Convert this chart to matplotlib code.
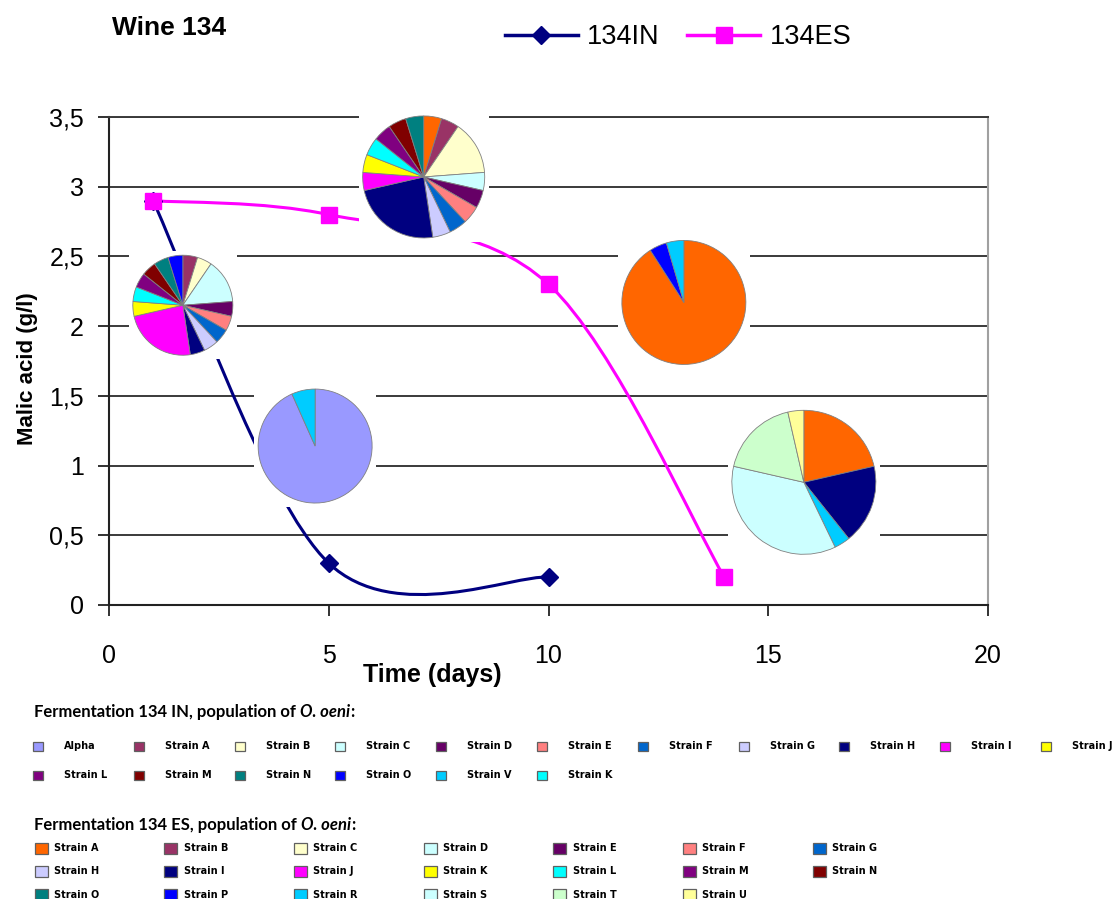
import numpy as np
import matplotlib
matplotlib.use("Agg")
import matplotlib.pyplot as plt
from matplotlib.path import Path
from matplotlib.patches import PathPatch, Rectangle
from matplotlib.lines import Line2D

# Malic acid during the two fermentations of wine 134
days_in = [1, 5, 10]
malic_in = [2.9, 0.3, 0.2]
days_es = [1, 5, 10, 14]
malic_es = [2.9, 2.8, 2.3, 0.2]

x_ticks = [0, 5, 10, 15, 20]
y_ticks = [0, 0.5, 1, 1.5, 2, 2.5, 3, 3.5]
y_tick_labels = ["0", "0,5", "1", "1,5", "2", "2,5", "3", "3,5"]

# O. oeni strains found in each fermentation (legend order) and their colours
in_strains = ["Alpha", "Strain A", "Strain B", "Strain C", "Strain D", "Strain E",
              "Strain F", "Strain G", "Strain H", "Strain I", "Strain J",
              "Strain L", "Strain M", "Strain N", "Strain O", "Strain V", "Strain K"]
in_colors = ["#9999FF", "#993366", "#FFFFCC", "#CCFFFF", "#660066", "#FF8080",
             "#0066CC", "#CCCCFF", "#000080", "#FF00FF", "#FFFF00",
             "#800080", "#800000", "#008080", "#0000FF", "#00CCFF", "#00FFFF"]

es_strains = ["Strain A", "Strain B", "Strain C", "Strain D", "Strain E", "Strain F",
              "Strain G", "Strain H", "Strain I", "Strain J", "Strain K", "Strain L",
              "Strain M", "Strain N", "Strain O", "Strain P", "Strain R", "Strain S",
              "Strain T", "Strain U"]
es_colors = ["#FF6600", "#993366", "#FFFFCC", "#CCFFFF", "#660066", "#FF8080",
             "#0066CC", "#CCCCFF", "#000080", "#FF00FF", "#FFFF00", "#00FFFF",
             "#800080", "#800000", "#008080", "#0000FF", "#00CCFF", "#CCFFFF",
             "#CCFFCC", "#FFFF99"]

# isolates per strain at each sampling point
in_day1_strains = ["Strain A", "Strain B", "Strain C", "Strain D", "Strain E", "Strain F",
                   "Strain G", "Strain H", "Strain I", "Strain J", "Strain K", "Strain L",
                   "Strain M", "Strain N", "Strain O"]
in_day1_counts = [1, 1, 3, 1, 1, 1, 1, 1, 5, 1, 1, 1, 1, 1, 1]
in_day5_strains = ["Alpha", "Strain V"]
in_day5_counts = [14, 1]

es_day5_strains = ["Strain A", "Strain B", "Strain C", "Strain D", "Strain E", "Strain F",
                   "Strain G", "Strain H", "Strain I", "Strain J", "Strain K", "Strain L",
                   "Strain M", "Strain N", "Strain O"]
es_day5_counts = [1, 1, 3, 1, 1, 1, 1, 1, 5, 1, 1, 1, 1, 1, 1]
es_day10_strains = ["Strain A", "Strain P", "Strain R"]
es_day10_counts = [20, 1, 1]
es_day14_strains = ["Strain A", "Strain I", "Strain R", "Strain S", "Strain T", "Strain U"]
es_day14_counts = [6, 5, 1, 10, 5, 1]

W, H = 1112, 899
NAVY = "#000080"
MAGENTA = "#FF00FF"
ARIAL = ["Liberation Sans Narrow", "Liberation Sans", "DejaVu Sans"]
CALIBRI = ["Lato", "DejaVu Sans"]


def fx(px):
    return px / W


def fy(py):
    return 1 - py / H


def smooth_path(xs, ys):
    # Bezier curve through the points, like a smoothed spreadsheet line
    pts = np.column_stack([xs, ys]).astype(float)
    n = len(pts)
    verts = [pts[0]]
    codes = [Path.MOVETO]
    for i in range(n - 1):
        p_prev = pts[max(i - 1, 0)]
        p0, p1 = pts[i], pts[i + 1]
        p_next = pts[min(i + 2, n - 1)]
        verts += [p0 + (p1 - p_prev) / 6, p1 - (p_next - p0) / 6, p1]
        codes += [Path.CURVE4] * 3
    return Path(verts, codes)


fig = plt.figure(figsize=(W / 100, H / 100), dpi=100)
ax = fig.add_axes([fx(109), fy(605), fx(988) - fx(109), fy(117) - fy(605)])
ax.set_xlim(0, 20)
ax.set_ylim(0, 3.5)
ax.set_xticks(x_ticks)
ax.set_xticklabels([str(t) for t in x_ticks], family=ARIAL, fontsize=18)
ax.set_yticks(y_ticks)
ax.set_yticklabels(y_tick_labels, family=ARIAL, fontsize=18)
ax.tick_params(direction="out", length=8, width=1.3, color="#222222")
ax.tick_params(axis="x", pad=20)
ax.tick_params(axis="y", pad=10)
ax.yaxis.grid(True, color="#3a3a3a", lw=1.4)
ax.set_axisbelow(True)
for side in ["left", "bottom"]:
    ax.spines[side].set_color("#222222")
    ax.spines[side].set_linewidth(1.5)
ax.spines["right"].set_color("#a0a0a0")
ax.spines["right"].set_linewidth(1.5)
ax.spines["top"].set_color("#3a3a3a")
ax.spines["top"].set_linewidth(1.4)

ax.add_patch(PathPatch(smooth_path(days_in, malic_in), facecolor="none",
                       edgecolor=NAVY, lw=2.2, zorder=3))
ax.plot(days_in, malic_in, ls="none", marker="D", ms=9, color=NAVY, zorder=4)
ax.add_patch(PathPatch(smooth_path(days_es, malic_es), facecolor="none",
                       edgecolor=MAGENTA, lw=2.2, zorder=3))
ax.plot(days_es, malic_es, ls="none", marker="s", ms=11, color=MAGENTA, zorder=5)

# population pies: (strains, counts, colour table, centre in data units, radius px)
pies = [
    (in_day1_strains, in_day1_counts, dict(zip(in_strains, in_colors)), (1.68, 2.15), 50),
    (in_day5_strains, in_day5_counts, dict(zip(in_strains, in_colors)), (4.69, 1.14), 57),
    (es_day5_strains, es_day5_counts, dict(zip(es_strains, es_colors)), (7.16, 3.07), 61),
    (es_day10_strains, es_day10_counts, dict(zip(es_strains, es_colors)), (13.08, 2.17), 62),
    (es_day14_strains, es_day14_counts, dict(zip(es_strains, es_colors)), (15.81, 0.88), 72),
]
for names, counts, table, centre, r in pies:
    cx, cy = ax.transData.transform(centre)
    R = r + 4
    pax = fig.add_axes([(cx - R) / W, (cy - R) / H, 2 * R / W, 2 * R / H])
    pax.pie(counts, colors=[table[n] for n in names], startangle=90, counterclock=False,
            wedgeprops=dict(edgecolor="#808080", linewidth=0.6))
    lim = R / r
    pax.set_xlim(-lim, lim)
    pax.set_ylim(-lim, lim)
    pax.set_aspect("equal")
    # pie() switches the frame off; keep the white box so it hides what lies behind
    pax.set_frame_on(True)
    pax.set_facecolor("white")
    pax.set_xticks([])
    pax.set_yticks([])
    for s in pax.spines.values():
        s.set_visible(False)

# titles and axis labels
fig.text(fx(112), fy(28), "Wine 134", family=ARIAL, fontsize=19, fontweight="bold", va="center")
fig.text(fx(432), fy(675), "Time (days)", family=ARIAL, fontsize=18, fontweight="bold",
         ha="center", va="center")
fig.text(fx(28), fy(369), "Malic acid (g/l)", family=ARIAL, fontsize=16, fontweight="bold",
         rotation=90, ha="center", va="center")

handles = [Line2D([], [], color=NAVY, lw=2.5, marker="D", ms=9),
           Line2D([], [], color=MAGENTA, lw=2.5, marker="s", ms=11)]
fig.legend(handles, ["134IN", "134ES"], loc="center", bbox_to_anchor=(fx(678), fy(37)),
           ncol=2, frameon=False, handlelength=2.7, handletextpad=0.35, columnspacing=1.0,
           prop=dict(family=ARIAL, size=19.5))


def section_title(py, text):
    t1 = fig.text(fx(34), fy(py), text, family=CALIBRI, fontsize=12, fontweight="bold",
                  va="bottom")
    t2 = ax.annotate("O. oeni", xy=(1, 0), xycoords=t1, va="bottom", ha="left",
                     family=CALIBRI, fontsize=12, fontweight="bold", style="italic",
                     annotation_clip=False)
    ax.annotate(":", xy=(1, 0), xycoords=t2, va="bottom", ha="left", family=CALIBRI,
                fontsize=12, fontweight="bold", annotation_clip=False)


def swatch(px, py, w, h, color, label, gap):
    fig.add_artist(Rectangle((fx(px - w / 2), fy(py + h / 2)), w / W, h / H,
                             transform=fig.transFigure, facecolor=color,
                             edgecolor="#606060", lw=0.9))
    fig.text(fx(px + gap), fy(py), label, family="DejaVu Sans", fontsize=7,
             fontweight="bold", va="center")


section_title(720, "Fermentation 134 IN, population of ")
for i, (name, col) in enumerate(zip(in_strains, in_colors)):
    swatch(38 + 100.8 * (i % 11), 746 + 29 * (i // 11), 10, 9, col, name, 26)

section_title(833, "Fermentation 134 ES, population of ")
for i, (name, col) in enumerate(zip(es_strains, es_colors)):
    swatch(41 + 129.7 * (i % 7), 848 + 23.5 * (i // 7), 13, 11, col, name, 13)

fig.savefig("out.png", dpi=100)
